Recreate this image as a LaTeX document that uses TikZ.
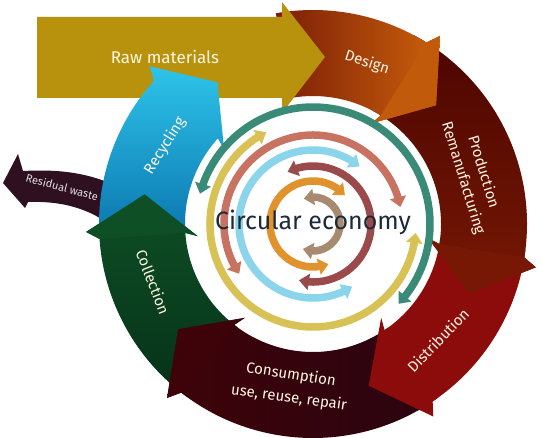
\documentclass[tikz,border=0pt]{standalone}
\usepackage{fontspec}
\setmainfont{Fira Sans}
\usetikzlibrary{arrows.meta,bending}
\definecolor{goldc}{HTML}{B8920C}
\definecolor{designA}{HTML}{7B1E06}
\definecolor{designB}{HTML}{CB600C}
\definecolor{prodA}{HTML}{4C0500}
\definecolor{prodB}{HTML}{761804}
\definecolor{distc}{HTML}{8C0C0C}
\definecolor{consA}{HTML}{3E0309}
\definecolor{consB}{HTML}{2A0410}
\definecolor{collA}{HTML}{0E4F25}
\definecolor{collB}{HTML}{063219}
\definecolor{recA}{HTML}{2EC4EA}
\definecolor{recB}{HTML}{0C78B0}
\definecolor{resc}{HTML}{2E1020}
\definecolor{labelc}{HTML}{FFF6E2}
\definecolor{centc}{HTML}{1B2A38}
\definecolor{tealc}{HTML}{3A8A78}
\definecolor{yellc}{HTML}{D8C256}
\definecolor{salmc}{HTML}{C87262}
\definecolor{lbluc}{HTML}{8AD4EC}
\definecolor{drosc}{HTML}{9A4A4A}
\definecolor{orngc}{HTML}{E0922C}
\definecolor{tanc}{HTML}{A88A70}
\newcommand{\ringband}[4]{%
  \path[#4] (#1:214pt) arc[start angle=#1, end angle=#2, radius=214pt]
    -- ({#2-2}:227pt) -- (#3:171pt) -- ({#2+2}:116pt) -- (#2:128pt)
    arc[start angle=#2, end angle=#1, radius=128pt] -- cycle;}
\newcommand{\ringhead}[3]{%
  \path[#3] (#1:214pt) -- ({#1-2}:227pt) -- (#2:171pt) -- ({#1+2}:116pt) -- (#1:128pt) -- cycle;}
\begin{document}
\begin{tikzpicture}[x=1pt,y=1pt,
  lbl/.style={text=labelc, font=\fontsize{15}{21}\selectfont, align=center, inner sep=0pt},
  ring/.style={line width=7.5pt, {Triangle[width=16pt,length=10pt]}-{Triangle[width=16pt,length=10pt]}}]
\useasboundingbox (0,0) rectangle (543,437);
\fill[white] (0,0) rectangle (543,437);
\begin{scope}[shift={(313,213)}]
  \ringband{234}{184}{170}{top color=collA, bottom color=collB}
  \ringband{306}{232}{218}{left color=consA, right color=consB}
  \ringhead{232}{218}{fill=consA}
  \ringband{-7}{-56}{-71}{fill=distc}
  \ringband{62}{-9}{-24}{top color=prodA, bottom color=prodB}
  \ringhead{-9}{-24}{fill=prodB}
  \ringband{100}{58}{44}{left color=designA, right color=designB}
  \ringhead{58}{44}{fill=designB!95!black}
\end{scope}
\path[fill=goldc] (37,339) -- (282,339) -- (282,324) -- (325,380) -- (282,435) -- (282,420) -- (37,420) -- cycle;
\path[fill=resc] (118,250) .. controls (90,264) and (60,268) .. (23,266)
  -- (18,283) -- (3,254) -- (25,229) -- (28,235)
  .. controls (60,236) and (90,230) .. (118,206) -- cycle;
\begin{scope}[shift={(313,213)}]
  \ringband{182}{138}{124}{top color=recA, bottom color=recB}
  \ringhead{184}{170}{fill=collA}
  \draw[ring, draw=tealc] (-43:117pt) arc[start angle=-43, end angle=165, radius=117pt];
  \draw[ring, draw=yellc] (117:103pt) arc[start angle=117, end angle=355, radius=103pt];
  \draw[ring, draw=salmc] (11:89pt) arc[start angle=11, end angle=214, radius=89pt];
  \draw[ring, draw=lbluc] (51:74pt) arc[start angle=51, end angle=302, radius=74pt];
  \draw[ring, draw=drosc] (-104:58pt) arc[start angle=-104, end angle=116, radius=58pt];
  \draw[ring, draw=orngc] (42:43pt) arc[start angle=42, end angle=291, radius=43pt];
  \draw[ring, draw=tanc] (-112:27pt) arc[start angle=-112, end angle=110, radius=27pt];
\end{scope}
\node[lbl, font=\fontsize{17}{20}\selectfont] (raw) at (165,380) {Raw materials};
\node[lbl, rotate=-18] (design) at (367,374) {Design};
\node[lbl, rotate=-73] (prod) at (473,262) {Production\\Remanufacturing};
\node[lbl, rotate=46] (dist) at (438,97) {Distribution};
\node[lbl, rotate=-9] (cons) at (291,62) {Consumption};
\node[lbl, rotate=-8] (use) at (289,39) {use, reuse, repair};
\node[lbl, rotate=-69] (coll) at (153,155) {Collection};
\node[lbl, rotate=58] (rec) at (165,291) {Recycling};
\node[lbl, text=white!88!black, font=\fontsize{11}{13}\selectfont, rotate=-15] (res) at (62,250) {Residual waste};
\node[text=centc, font=\fontsize{25}{29}\selectfont, inner sep=0pt] (ce) at (313,215) {Circular economy};
\end{tikzpicture}
\end{document}
